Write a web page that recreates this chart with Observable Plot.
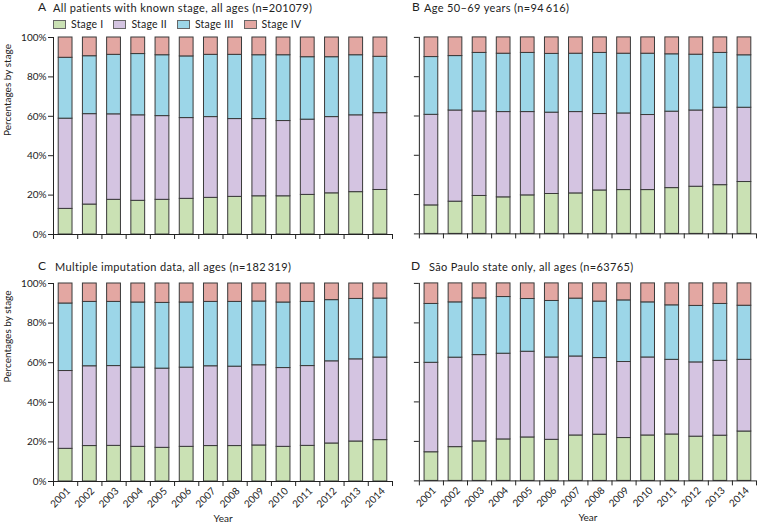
<!DOCTYPE html>
<html><head><meta charset="utf-8">
<script src="https://cdn.jsdelivr.net/npm/d3@7"></script>
<script src="https://cdn.jsdelivr.net/npm/@observablehq/plot@0.6"></script>
<style>
body{margin:0;background:#fff;font-family:Lato,"Noto Sans",sans-serif;}
#root{position:relative;width:758px;height:526px;overflow:hidden;background:#fff;}
.pl{position:absolute;}
.pl svg{overflow:visible;}
.letter{position:absolute;font-size:12px;color:#222;line-height:1;white-space:nowrap;}
.title{position:absolute;font-size:11px;letter-spacing:0.35px;color:#222;line-height:1;white-space:nowrap;}
.legend{position:absolute;left:53px;top:19px;font-size:10.5px;color:#222;white-space:nowrap;display:flex;align-items:center;line-height:1;letter-spacing:0.2px;}
.legend span.sw{display:inline-block;width:11px;height:7px;border:1px solid #666;margin-right:5px;}
.legend span.it{display:inline-flex;align-items:center;margin-right:10px;}
</style></head><body><div id="root"></div>
<script>
const years = [2001,2002,2003,2004,2005,2006,2007,2008,2009,2010,2011,2012,2013,2014];
const stages = ["Stage I","Stage II","Stage III","Stage IV"];
const stageColors = ["#cae1b4","#d4c4e1","#9cd6e8","#e3a7a2"];
const yTicks = [0,20,40,60,80,100];

// Panel A: all patients with known stage, all ages (%)
const aStageI   = [13.0,15.2,17.6,17.1,17.6,18.1,18.6,19.1,19.4,19.4,20.1,20.9,21.5,22.6];
const aStageII  = [45.8,45.9,43.4,43.4,42.5,41.0,41.0,39.5,39.2,38.2,38.2,38.7,39.0,39.0];
const aStageIII = [30.9,29.4,30.2,31.1,30.9,31.3,31.6,32.6,32.4,33.4,31.7,30.4,30.5,28.6];
const aStageIV  = [10.3, 9.5, 8.8, 8.4, 9.0, 9.6, 8.8, 8.8, 9.0, 9.0,10.0,10.0, 9.0, 9.8];
// Panel B: age 50-69 years
const bStageI   = [14.5,16.4,19.3,18.6,19.6,20.3,20.6,22.1,22.3,22.3,23.3,24.0,24.8,26.4];
const bStageII  = [46.1,46.4,43.0,43.4,42.4,41.4,41.4,38.9,39.0,38.2,38.9,38.8,39.4,37.8];
const bStageIII = [29.4,27.7,29.8,29.7,30.1,29.9,29.7,31.1,30.4,31.2,29.2,28.4,27.9,26.7];
const bStageIV  = [10.0, 9.5, 7.9, 8.3, 7.9, 8.4, 8.3, 7.9, 8.3, 8.3, 8.6, 8.8, 7.9, 9.1];
// Panel C: multiple imputation data, all ages
const cStageI   = [16.5,17.9,18.0,17.5,17.0,17.5,17.9,17.9,18.2,17.5,18.0,19.2,20.2,20.9];
const cStageII  = [39.3,40.3,40.3,40.0,40.0,40.0,40.3,40.1,40.5,39.8,40.3,41.5,41.5,41.7];
const cStageIII = [34.1,32.5,32.4,32.9,33.2,32.9,32.5,32.7,32.2,33.1,32.4,30.9,30.5,29.8];
const cStageIV  = [10.1, 9.3, 9.3, 9.6, 9.8, 9.6, 9.3, 9.3, 9.1, 9.6, 9.3, 8.4, 7.8, 7.6];
// Panel D: Sao Paulo state only, all ages
const dStageI   = [14.5,17.1,20.0,21.0,22.0,20.8,23.0,23.4,21.7,23.0,23.5,22.4,22.9,25.0];
const dStageII  = [45.3,45.3,43.7,43.4,43.4,41.7,40.0,38.8,38.5,39.5,37.8,37.6,37.9,36.3];
const dStageIII = [29.8,28.0,28.7,28.7,26.7,28.6,29.3,28.6,31.2,27.9,27.6,28.6,28.8,27.4];
const dStageIV  = [10.4, 9.6, 7.6, 6.9, 7.9, 8.9, 7.7, 9.2, 8.6, 9.6,11.1,11.4,10.4,11.3];

const panelLetters = ["A","B","C","D"];
const panelTitles = [
  "All patients with known stage, all ages (n=201079)",
  "Age 50\u201369 years (n=94\u2009616)",
  "Multiple imputation data, all ages (n=182\u2009319)",
  "S\u00e3o Paulo state only, all ages (n=63765)"
];

function buildRows(series) {
  const rows = [];
  years.forEach((yr, i) => {
    let acc = 0;
    series.forEach((s, k) => {
      const v = s[i];
      rows.push({year: yr, stage: stages[k], y1: acc, y2: acc + v});
      acc += v;
    });
  });
  return rows;
}

const root = document.getElementById("root");
const boundaries = [years[0] - 0.5, ...years.map(y => y + 0.5)];

function drawPanel(series, cfg) {
  const rows = buildRows(series);
  const marks = [
    Plot.rect(rows, {x1: d => d.year - 0.5, x2: d => d.year + 0.5, y1: "y1", y2: "y2",
      fill: "stage", stroke: "#3a3a3a", strokeWidth: 1, insetLeft: 5.2, insetRight: 5.2}),
    Plot.ruleX([boundaries[0]], {stroke: "#222", strokeWidth: 1}),
    Plot.ruleY([0], {stroke: "#222", strokeWidth: 1}),
    Plot.axisY({ticks: yTicks, tickFormat: cfg.yLabels ? (d => d + "%") : (() => ""), tickSize: 5, tickPadding: 2, label: null, stroke: "#222"}),
    Plot.axisX({ticks: boundaries, tickFormat: () => "", tickSize: 5, label: null, stroke: "#222"})
  ];
  if (cfg.yLabels) {
    marks.push(Plot.text(["Percentages by stage"], {frameAnchor: "left", rotate: -90, dx: -46, fontSize: 10, fill: "#222"}));
  }
  if (cfg.xLabels) {
    marks.push(Plot.axisX({ticks: years, tickSize: 0, tickRotate: -45, tickPadding: 8, dx: 3, tickFormat: d => String(d), label: null, fontSize: 10}));
    marks.push(Plot.text(["Year"], {frameAnchor: "bottom", dy: 40, fontSize: 10, fill: "#222"}));
  }
  const svg = Plot.plot({
    width: cfg.width, height: cfg.height,
    marginTop: cfg.mt, marginBottom: cfg.mb, marginLeft: cfg.ml, marginRight: cfg.mr,
    style: {fontFamily: "Lato, 'Noto Sans', sans-serif", fontSize: "10px", color: "#222", background: "transparent", overflow: "visible"},
    x: {domain: [boundaries[0], boundaries[boundaries.length - 1]], axis: null},
    y: {domain: [0, 100], axis: null},
    color: {domain: stages, range: stageColors},
    marks
  });
  const wrap = document.createElement("div");
  wrap.className = "pl";
  wrap.style.left = cfg.left + "px";
  wrap.style.top = cfg.top + "px";
  wrap.appendChild(svg);
  root.appendChild(wrap);

  const L = document.createElement("div");
  L.className = "letter"; L.textContent = cfg.letter;
  L.style.left = cfg.letterX + "px"; L.style.top = cfg.titleY + "px";
  root.appendChild(L);
  const T = document.createElement("div");
  T.className = "title"; T.textContent = cfg.title;
  T.style.left = cfg.titleX + "px"; T.style.top = (cfg.titleY + 1) + "px";
  root.appendChild(T);
}

drawPanel([aStageI, aStageII, aStageIII, aStageIV], {left: 0, top: 0, width: 395, height: 240, mt: 37, mb: 6, ml: 53, mr: 3,
  yLabels: true, xLabels: false, letter: panelLetters[0], title: panelTitles[0], letterX: 38, titleX: 53, titleY: 1});
drawPanel([bStageI, bStageII, bStageIII, bStageIV], {left: 366, top: 0, width: 393, height: 240, mt: 37, mb: 6, ml: 53, mr: 2,
  yLabels: false, xLabels: false, letter: panelLetters[1], title: panelTitles[1], letterX: 412, titleX: 424, titleY: 1});
drawPanel([cStageI, cStageII, cStageIII, cStageIV], {left: 0, top: 247, width: 395, height: 279, mt: 36, mb: 45, ml: 53, mr: 3,
  yLabels: true, xLabels: true, letter: panelLetters[2], title: panelTitles[2], letterX: 38, titleX: 55, titleY: 260});
drawPanel([dStageI, dStageII, dStageIII, dStageIV], {left: 366, top: 247, width: 393, height: 279, mt: 36, mb: 45, ml: 53, mr: 2,
  yLabels: false, xLabels: true, letter: panelLetters[3], title: panelTitles[3], letterX: 411, titleX: 429, titleY: 260});

// legend
const leg = document.createElement("div");
leg.className = "legend";
stages.forEach((s, i) => {
  const it = document.createElement("span"); it.className = "it";
  const sw = document.createElement("span"); sw.className = "sw"; sw.style.background = stageColors[i];
  it.appendChild(sw); it.appendChild(document.createTextNode(s));
  leg.appendChild(it);
});
root.appendChild(leg);
</script></body></html>
